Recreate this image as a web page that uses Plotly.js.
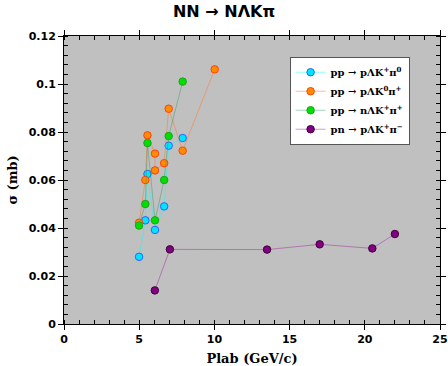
<!DOCTYPE html>
<html><head><meta charset="utf-8">
<script src="https://cdn.plot.ly/plotly-3.0.1.min.js"></script>
<style>html,body{margin:0;padding:0;background:#fff}</style>
</head><body><div id="chart" style="width:448px;height:366px"></div>
<script>
const names = ["pp → pΛK<sup>+</sup>π<sup>0</sup>", "pp → pΛK<sup>0</sup>π<sup>+</sup>", "pp → nΛK<sup>+</sup>π<sup>+</sup>", "pn → pΛK<sup>+</sup>π<sup>−</sup>"];
const x_cyan = [4.99, 5.41, 5.55, 6.05, 6.66, 6.96, 7.89];
const y_cyan = [0.028, 0.0432, 0.0625, 0.0392, 0.049, 0.0743, 0.0775];
const x_orange = [4.99, 5.41, 5.55, 6.05, 6.05, 6.66, 6.96, 7.89, 10.02];
const y_orange = [0.0422, 0.060, 0.0786, 0.071, 0.064, 0.067, 0.0897, 0.0722, 0.1061];
const x_green = [4.99, 5.41, 5.55, 6.05, 6.66, 6.96, 7.89];
const y_green = [0.041, 0.050, 0.0754, 0.0432, 0.060, 0.0783, 0.101];
const x_purple = [6.04, 7.04, 13.5, 17.0, 20.5, 22.0];
const y_purple = [0.014, 0.0311, 0.031, 0.0332, 0.0315, 0.0375];

function tr(x, y, name, lc, fc, oc) {
  return {x: x, y: y, name: name, type: 'scatter', mode: 'lines+markers',
    line: {color: lc, width: 1},
    marker: {size: 7.5, color: fc, line: {color: oc, width: 1}}};
}
const data = [
  tr(x_cyan, y_cyan, names[0], 'rgba(0,255,255,0.45)', '#00e5ff', '#3060ff'),
  tr(x_orange, y_orange, names[1], 'rgba(255,120,40,0.5)', '#ff8c00', '#ff4010'),
  tr(x_green, y_green, names[2], 'rgba(30,150,90,0.4)', '#00e000', '#20a020'),
  tr(x_purple, y_purple, names[3], 'rgba(150,30,150,0.45)', '#800080', '#400040')
];
const tickfont = {family: 'DejaVu Sans', size: 11, color: '#000', weight: 'bold'};
const layout = {
  width: 448, height: 366,
  margin: {l: 64, r: 8, t: 36, b: 42},
  paper_bgcolor: '#ffffff', plot_bgcolor: '#c0c0c0',
  title: {text: '<b>NN → NΛKπ</b>', font: {family: 'DejaVu Sans', size: 16, color: '#000'}, x: 0.5, xanchor: 'center', y: 0.985, yanchor: 'top'},
  showlegend: true,
  legend: {x: 0.6, y: 0.928, xanchor: 'left', yanchor: 'top', bgcolor: '#ffffff', bordercolor: '#555', borderwidth: 1,
    font: {family: 'DejaVu Serif', size: 10, color: '#000', weight: 'bold'}, tracegroupgap: 0},
  xaxis: {range: [0, 25], dtick: 5, tick0: 0, showgrid: false, zeroline: false,
    showline: true, linecolor: '#000', linewidth: 1, mirror: 'allticks',
    ticks: 'outside', ticklen: 5, tickcolor: '#000', tickfont: tickfont,
    minor: {dtick: 1, ticks: 'inside', ticklen: 4, tickcolor: '#000', showgrid: false},
    title: {text: '<b>Plab (GeV/c)</b>', font: {family: 'DejaVu Serif', size: 13, color: '#000'}, standoff: 8}},
  yaxis: {range: [0, 0.12], dtick: 0.02, tick0: 0, showgrid: false, zeroline: false,
    showline: true, linecolor: '#000', linewidth: 1, mirror: 'allticks',
    ticks: 'outside', ticklen: 5, tickcolor: '#000', tickfont: tickfont,
    minor: {dtick: 0.004, ticks: 'inside', ticklen: 4, tickcolor: '#000', showgrid: false},
    title: {text: '<b>σ (mb)</b>', font: {family: 'DejaVu Serif', size: 13, color: '#000'}, standoff: 8}}
};
Plotly.newPlot('chart', data, layout, {displayModeBar: false});
</script></body></html>
